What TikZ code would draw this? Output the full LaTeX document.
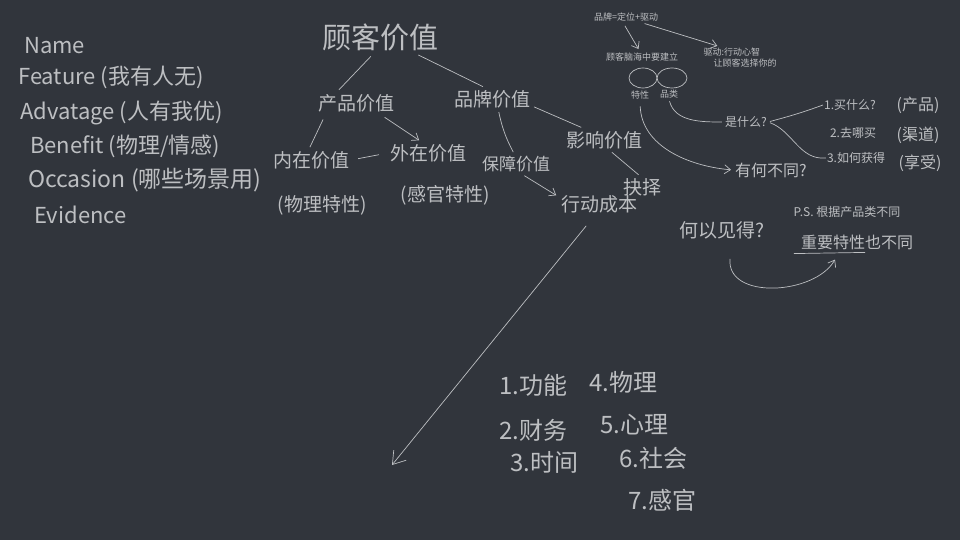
\documentclass[tikz,border=0pt]{standalone}
\usepackage{fontspec}
\newfontfamily\cjk{Noto Sans CJK SC}
\usetikzlibrary{arrows.meta,calc,positioning,shapes.geometric}
\definecolor{board}{HTML}{31353C}
\definecolor{chalk}{HTML}{BDBFC2}

\tikzset{
    hand/.style={text=chalk, inner sep=2pt, font=\cjk\fontsize{22}{24}\selectfont},
    big/.style={text=chalk, inner sep=2pt, font=\cjk\fontsize{29}{31}\selectfont},
    mid/.style={text=chalk, inner sep=2pt, font=\cjk\fontsize{19}{21}\selectfont},
    sm/.style={text=chalk, inner sep=1pt, font=\cjk\fontsize{12}{14}\selectfont},
    tiny/.style={text=chalk, inner sep=1pt, font=\cjk\fontsize{9}{11}\selectfont},
    ring/.style={draw=chalk, ellipse, line width=0.7pt, minimum width=28pt, minimum height=20pt, inner sep=0pt},
    chalkline/.style={draw=chalk, line width=0.7pt},
    arr/.style={chalkline, -{Straight Barb[length=6pt,width=9pt]}},
}

\begin{document}
\begin{tikzpicture}[x=1pt,y=-1pt]
    \fill[board] (0,0) rectangle (960,540);
    \useasboundingbox (0,0) rectangle (960,540);

    % NABC list
    \node[hand, anchor=west] (name) at (22,46) {Name};
    \node[hand, anchor=west] (feat) at (16,77) {Feature (我有人无)};
    \node[hand, anchor=west] (adv) at (18,113) {Advatage (人有我优)};
    \node[hand, anchor=west] (ben) at (28,146) {Benefit (物理/情感)};
    \node[hand, anchor=west, font=\cjk\fontsize{23}{25}\selectfont] (occ) at (26,180) {Occasion (哪些场景用)};
    \node[hand, anchor=west] (evi) at (32,215) {Evidence};

    % value tree
    \node[big] (cv) at (380,37) {顾客价值};
    \node[mid] (pv) at (356,103) {产品价值};
    \node[mid] (bv) at (492,99) {品牌价值};
    \node[mid] (iv) at (311,160) {内在价值};
    \node[mid] (ev) at (428,153) {外在价值};
    \node[mid] (ivp) at (322,205) {(物理特性)};
    \node[mid] (evp) at (445,195) {(感官特性)};
    \node[mid, font=\cjk\fontsize{17}{19}\selectfont] (gv) at (516,164) {保障价值};
    \node[mid] (yv) at (604,140) {影响价值};
    \node[mid] (ac) at (599,204) {行动成本};
    \node[mid] (ch) at (642,187) {抉择};

    \draw[chalkline, shorten <=5pt, shorten >=3pt] (cv.250) -- (pv.150);
    \draw[chalkline, shorten <=5pt, shorten >=3pt] (cv.-25) -- (bv.120);
    \draw[chalkline, shorten <=6pt, shorten >=2pt] (pv.200) -- (iv.100);
    \draw[arr, shorten <=6pt, shorten >=3pt] (pv.-25) -- (ev.120);
    \draw[chalkline, shorten <=7pt, shorten >=9pt] (iv.east) -- (ev.west);
    \draw[chalkline, shorten <=2pt, shorten >=2pt] (bv.-60) to[bend right=8] (gv.100);
    \draw[chalkline, shorten <=2pt, shorten >=4pt] (bv.-10) -- (yv.150);
    \draw[arr, shorten <=3pt, shorten >=3pt] (gv.-60) -- (ac.170);
    \draw[chalkline, shorten <=2pt, shorten >=2pt] (yv.-60) -- (ch.100);

    % brand / mind
    \node[tiny] (brand) at (626,17) {品牌=定位+驱动};
    \node[tiny] (mind) at (642,57) {顾客脑海中要建立};
    \node[tiny, align=left] (drive) at (740,58) {驱动:行动心智\\\hspace*{10pt}让顾客选择你的};
    \node[ring] (e1) at (643,78) {};
    \node[ring, minimum width=30pt] (e2) at (672,78) {};
    \node[tiny] (tx) at (640,95) {特性};
    \node[tiny] (pl) at (669,94) {品类};
    \draw[arr, shorten <=4pt, shorten >=3pt] (brand.240) -- (mind.110);
    \draw[arr, shorten <=4pt, shorten >=4pt] (brand.-20) -- (drive.150);

    \node[sm] (what) at (746,122) {是什么?};
    \node[sm] (q1) at (850,105) {1.买什么?};
    \node[sm] (q2) at (853,133) {2.去哪买};
    \node[sm] (q3) at (856,158) {3.如何获得};
    \node[mid, font=\cjk\fontsize{16}{18}\selectfont] (p1) at (918,105) {(产品)};
    \node[mid, font=\cjk\fontsize{16}{18}\selectfont] (p2) at (918,135) {(渠道)};
    \node[mid, font=\cjk\fontsize{16}{18}\selectfont] (p3) at (920,163) {(享受)};
    \node[mid, font=\cjk\fontsize{16}{18}\selectfont] (diff) at (771,170) {有何不同?};
    \draw[chalkline, shorten <=2pt, shorten >=2pt] (pl.south) to[out=-75,in=180] (what.west);
    \draw[arr, shorten <=6pt, shorten >=2pt] (tx.south) to[out=-88,in=175] (diff.west);
    \draw[chalkline, shorten <=2pt] (what.east) to[out=15,in=200] (q1.west);
    \draw[chalkline, shorten <=2pt] (what.east) to[out=-20,in=185] (q3.west);

    \node[mid] (seen) at (722,230) {何以见得?};
    \node[sm] (ps) at (847,212) {P.S. 根据产品类不同};
    \node[mid, font=\cjk\fontsize{16}{18}\selectfont] (imp) at (857,242) {重要特性也不同};
    \draw[chalkline, shorten >=50pt] ($(imp.south west)+(-5,2)$) -- ($(imp.south east)+(0,0)$);
    \draw[arr] ($(seen.south)+(8,18)$) to[out=-95,in=-120] ($(imp.south)+(-22,8)$);

    % action cost list
    \node[hand, font=\cjk\fontsize{24}{26}\selectfont] (l1) at (533,385) {1.功能};
    \node[hand, font=\cjk\fontsize{24}{26}\selectfont] (l4) at (623,382) {4.物理};
    \node[hand, font=\cjk\fontsize{24}{26}\selectfont] (l2) at (533,430) {2.财务};
    \node[hand, font=\cjk\fontsize{24}{26}\selectfont] (l5) at (634,425) {5.心理};
    \node[hand, font=\cjk\fontsize{24}{26}\selectfont] (l3) at (544,462) {3.时间};
    \node[hand, font=\cjk\fontsize{24}{26}\selectfont] (l6) at (653,458) {6.社会};
    \node[hand, font=\cjk\fontsize{24}{26}\selectfont] (l7) at (662,500) {7.感官};
    \coordinate (tip) at (392,465);
    \draw[arr, shorten <=14pt, -{Straight Barb[length=12pt,width=16pt]}] (ac.250) -- (tip);
\end{tikzpicture}
\end{document}
